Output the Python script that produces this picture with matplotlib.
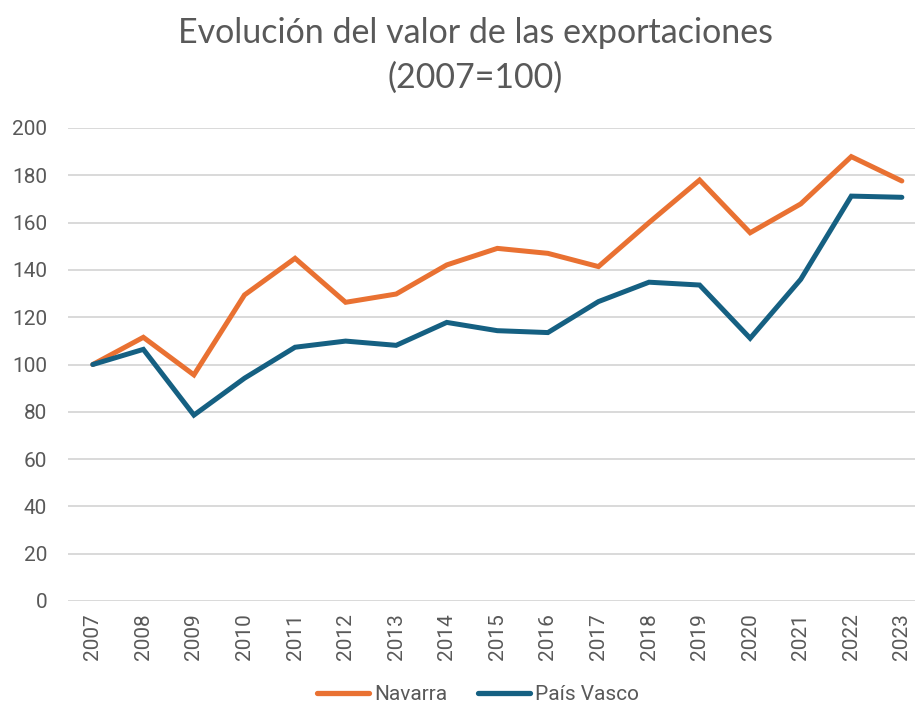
import matplotlib
matplotlib.use("Agg")
import matplotlib.pyplot as plt

years = list(range(2007, 2024))
navarra = [100, 111.5, 95.6, 129.4, 144.9, 126.3, 129.8, 142.1, 149.1, 147.0,
           141.4, 160.0, 178.0, 155.7, 167.9, 187.9, 177.6]
pais_vasco = [100, 106.4, 78.6, 94.2, 107.3, 109.9, 108.1, 117.8, 114.3, 113.5,
              126.6, 134.8, 133.6, 111.1, 136.0, 171.2, 170.7]
yticks = list(range(0, 201, 20))
title_lines = ['Evolución del valor de las exportaciones', '(2007=100)']

plt.rcParams['font.family'] = ['Roboto', 'DejaVu Sans']
txt = '#595959'

title_family, title_size = ['Lato', 'DejaVu Sans'], 24.5

fig = plt.figure(figsize=(9.15, 7.15), dpi=100)
ax = fig.add_axes([68/915, 1-601/715, 1-68/915, (601-128)/715])

ax.plot(years, navarra, color='#E97132', lw=3.6, label='Navarra',
        solid_capstyle='round', solid_joinstyle='miter')
ax.plot(years, pais_vasco, color='#156082', lw=3.6, label='País Vasco',
        solid_capstyle='round', solid_joinstyle='miter')

ax.set_xlim(2006.51, 2023.26)
ax.set_ylim(0, 200)
ax.set_yticks(yticks)
ax.set_xticks(years)
ax.set_xticklabels([str(y) for y in years], rotation=90, fontsize=15, color=txt)
ax.set_yticklabels([str(v) for v in yticks], fontsize=15, color=txt)
ax.tick_params(axis='both', length=0)
ax.tick_params(axis='y', pad=15)
ax.tick_params(axis='x', pad=9)
ax.grid(axis='y', color='#D9D9D9', lw=1.4)
ax.set_axisbelow(True)
for s in ax.spines.values():
    s.set_visible(False)

fig.text(475/915, 1-43/715, title_lines[0], ha='center', va='baseline',
         fontsize=title_size, color=txt, family=title_family)
fig.text(475/915, 1-88/715, title_lines[1], ha='center', va='baseline',
         fontsize=title_size, color=txt, family=title_family)

leg = fig.legend(loc='center', bbox_to_anchor=(478/915, 1-695/715), ncol=2, frameon=False,
                 fontsize=15, labelcolor=txt, handlelength=2.5, columnspacing=1.5,
                 handletextpad=0.25)
for h in leg.legend_handles:
    h.set_linewidth(3.8)

fig.savefig('out.png', dpi=100)
